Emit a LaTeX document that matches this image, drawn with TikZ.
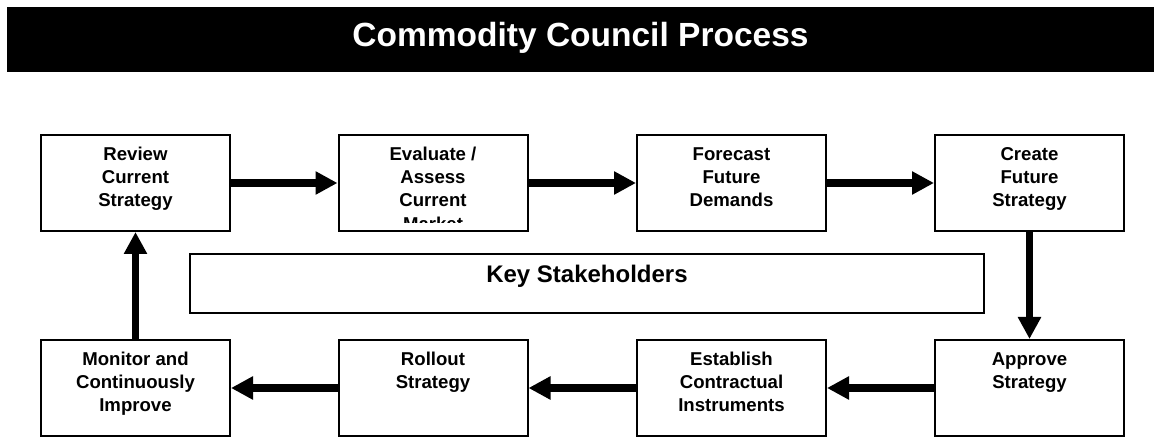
\documentclass[tikz,border=0pt]{standalone}
\usepackage{fontspec}
\setmainfont{Liberation Sans}
\usetikzlibrary{arrows.meta}
\begin{document}
\begin{tikzpicture}[x=1pt,y=-1pt,
  stepbox/.style={draw, line width=2pt, minimum width=189pt, minimum height=96pt, inner sep=0pt},
  boxtext/.style={anchor=north, align=center, inner sep=0pt, font=\fontsize{18.6}{23.3}\selectfont\bfseries},
  flow/.style={line width=7.5pt, -{Triangle[width=22pt,length=22pt]}}]
\useasboundingbox (0,0) rectangle (1154,438);
% title bar
\node[fill=black, minimum width=1147pt, minimum height=65pt, inner sep=0pt] (bar) at (580.5,39.5) {};
\node[anchor=base, inner sep=0pt, text=white, font=\fontsize{33.5}{40}\selectfont\bfseries] (title) at (580.5,47) {Commodity Council Process};
% boxes
\node[stepbox] (b1) at (135.5,183) {};
\node[stepbox] (b2) at (433,183) {};
\node[stepbox] (b3) at (731.5,183) {};
\node[stepbox] (b4) at (1029.5,183) {};
\node[stepbox] (b5) at (1029.5,388) {};
\node[stepbox] (b6) at (731.5,388) {};
\node[stepbox] (b7) at (433,388) {};
\node[stepbox] (b8) at (135.5,388) {};
% key stakeholders
\node[draw, line width=2pt, minimum width=794pt, minimum height=59pt, inner sep=0pt] (ks) at (587,283.5) {};
\node[anchor=base, inner sep=0pt, font=\fontsize{24}{28}\selectfont\bfseries] (kst) at (587,283) {Key Stakeholders};
% texts
\node[boxtext] (t1) at ([yshift=-8pt]b1.north) {\rule{0pt}{18pt}Review\\Current\\Strategy};
\begin{scope}
\clip (339,135) rectangle (527,223);
\node[boxtext] (t2) at ([yshift=-8pt]b2.north) {\rule{0pt}{18pt}Evaluate /\\Assess\\Current\\Market};
\end{scope}
\node[boxtext] (t3) at ([yshift=-8pt]b3.north) {\rule{0pt}{18pt}Forecast\\Future\\Demands};
\node[boxtext] (t4) at ([yshift=-8pt]b4.north) {\rule{0pt}{18pt}Create\\Future\\Strategy};
\node[boxtext] (t5) at ([yshift=-8pt]b5.north) {\rule{0pt}{18pt}Approve\\Strategy};
\node[boxtext] (t6) at ([yshift=-8pt]b6.north) {\rule{0pt}{18pt}Establish\\Contractual\\Instruments};
\node[boxtext] (t7) at ([yshift=-8pt]b7.north) {\rule{0pt}{18pt}Rollout\\Strategy};
\node[boxtext] (t8) at ([yshift=-8pt]b8.north) {\rule{0pt}{18pt}Monitor and\\Continuously\\Improve};
% arrows
\draw[flow] (b1.east) -- (b2.west);
\draw[flow] (b2.east) -- (b3.west);
\draw[flow] (b3.east) -- (b4.west);
\draw[flow] (b4.south) -- (b5.north);
\draw[flow] (b5.west) -- (b6.east);
\draw[flow] (b6.west) -- (b7.east);
\draw[flow] (b7.west) -- (b8.east);
\draw[flow] (b8.north) -- (b1.south);
\end{tikzpicture}
\end{document}
